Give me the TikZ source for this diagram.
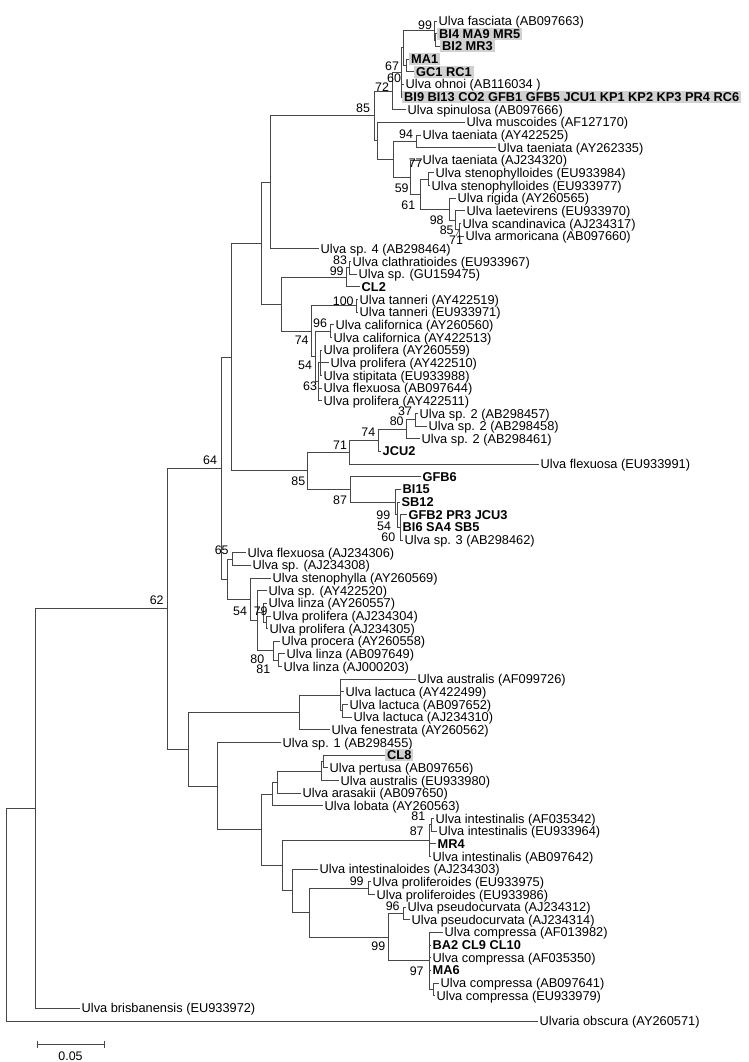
\documentclass[tikz,border=0pt]{standalone}
\usepackage{fontspec}
\setmainfont{Liberation Sans}
\begin{document}
\begin{tikzpicture}[x=1pt,y=-12.658pt,
  br/.style={draw=black!72,line width=0.85pt},
  lab/.style={anchor=west,inner xsep=1.5pt,inner ysep=0pt,text height=9.7pt,text depth=0.5pt,font=\fontsize{12.8}{14}\selectfont},
  blab/.style={lab,font=\fontsize{12.8}{14}\selectfont\bfseries},
  hl/.style={blab,fill=black!18,inner xsep=2pt,inner ysep=0.8pt},
  bs/.style={font=\fontsize{12.4}{14}\selectfont,inner sep=0pt}]
\useasboundingbox (0,-0.659) rectangle (748,83.24);
% leaves
\node[lab] (l1) at (437,1) {Ulva fasciata (AB097663)};
\node[hl] (l2) at (437,2) {BI4 MA9 MR5};
\node[hl] (l3) at (440,3) {BI2 MR3};
\node[hl] (l4) at (409,4) {MA1};
\node[hl] (l5) at (414,5) {GC1 RC1};
\node[lab] (l6) at (404,6) {Ulva ohnoi (AB116034 )};
\node[hl] (l7) at (402,7) {BI9 BI13 CO2 GFB1 GFB5 JCU1 KP1 KP2 KP3 PR4 RC6};
\node[lab] (l8) at (406,8) {Ulva spinulosa (AB097666)};
\node[lab] (l9) at (465,9) {Ulva muscoides (AF127170)};
\node[lab] (l10) at (421,10) {Ulva taeniata (AY422525)};
\node[lab] (l11) at (496,11) {Ulva taeniata (AY262335)};
\node[lab] (l12) at (421,12) {Ulva taeniata (AJ234320)};
\node[lab] (l13) at (434,13) {Ulva stenophylloides (EU933984)};
\node[lab] (l14) at (430,14) {Ulva stenophylloides (EU933977)};
\node[lab] (l15) at (456,15) {Ulva rigida (AY260565)};
\node[lab] (l16) at (465,16) {Ulva laetevirens (EU933970)};
\node[lab] (l17) at (461,17) {Ulva scandinavica (AJ234317)};
\node[lab] (l18) at (464,18) {Ulva armoricana (AB097660)};
\node[lab] (l19) at (319,19) {Ulva sp. 4 (AB298464)};
\node[lab] (l20) at (351,20) {Ulva clathratioides (EU933967)};
\node[lab] (l21) at (357,21) {Ulva sp. (GU159475)};
\node[blab] (l22) at (360,22) {CL2};
\node[lab] (l23) at (358,23) {Ulva tanneri (AY422519)};
\node[lab] (l24) at (358,24) {Ulva tanneri (EU933971)};
\node[lab] (l25) at (334,25) {Ulva californica (AY260560)};
\node[lab] (l26) at (332,26) {Ulva californica (AY422513)};
\node[lab] (l27) at (322,27) {Ulva prolifera (AY260559)};
\node[lab] (l28) at (329,28) {Ulva prolifera (AY422510)};
\node[lab] (l29) at (322,29) {Ulva stipitata (EU933988)};
\node[lab] (l30) at (322,30) {Ulva flexuosa (AB097644)};
\node[lab] (l31) at (322,31) {Ulva prolifera (AY422511)};
\node[lab] (l32) at (418,32) {Ulva sp. 2 (AB298457)};
\node[lab] (l33) at (427,33) {Ulva sp. 2 (AB298458)};
\node[lab] (l34) at (420,34) {Ulva sp. 2 (AB298461)};
\node[blab] (l35) at (381,35) {JCU2};
\node[lab] (l36) at (539,36) {Ulva flexuosa (EU933991)};
\node[blab] (l37) at (421,37) {GFB6};
\node[blab] (l38) at (401,38) {BI15};
\node[blab] (l39) at (400,39) {SB12};
\node[blab] (l40) at (407,40) {GFB2 PR3 JCU3};
\node[blab] (l41) at (401,41) {BI6 SA4 SB5};
\node[lab] (l42) at (403,42) {Ulva sp. 3 (AB298462)};
\node[lab] (l43) at (246,43) {Ulva flexuosa (AJ234306)};
\node[lab] (l44) at (251,44) {Ulva sp. (AJ234308)};
\node[lab] (l45) at (271,45) {Ulva stenophylla (AY260569)};
\node[lab] (l46) at (267,46) {Ulva sp. (AY422520)};
\node[lab] (l47) at (267,47) {Ulva linza (AY260557)};
\node[lab] (l48) at (271,48) {Ulva prolifera (AJ234304)};
\node[lab] (l49) at (268,49) {Ulva prolifera (AJ234305)};
\node[lab] (l50) at (280,50) {Ulva procera (AY260558)};
\node[lab] (l51) at (285,51) {Ulva linza (AB097649)};
\node[lab] (l52) at (282,52) {Ulva linza (AJ000203)};
\node[lab] (l53) at (416,53) {Ulva australis (AF099726)};
\node[lab] (l54) at (344,54) {Ulva lactuca (AY422499)};
\node[lab] (l55) at (348,55) {Ulva lactuca (AB097652)};
\node[lab] (l56) at (352,56) {Ulva lactuca (AJ234310)};
\node[lab] (l57) at (330,57) {Ulva fenestrata (AY260562)};
\node[lab] (l58) at (281,58) {Ulva sp. 1 (AB298455)};
\node[hl] (l59) at (385,59) {CL8};
\node[lab] (l60) at (328,60) {Ulva pertusa (AB097656)};
\node[lab] (l61) at (339,61) {Ulva australis (EU933980)};
\node[lab] (l62) at (301,62) {Ulva arasakii (AB097650)};
\node[lab] (l63) at (323,63) {Ulva lobata (AY260563)};
\node[lab] (l64) at (434,64) {Ulva intestinalis (AF035342)};
\node[lab] (l65) at (437,65) {Ulva intestinalis (EU933964)};
\node[blab] (l66) at (436,66) {MR4};
\node[lab] (l67) at (431,67) {Ulva intestinalis (AB097642)};
\node[lab] (l68) at (318,68) {Ulva intestinaloides (AJ234303)};
\node[lab] (l69) at (371,69) {Ulva proliferoides (EU933975)};
\node[lab] (l70) at (375,70) {Ulva proliferoides (EU933986)};
\node[lab] (l71) at (406,71) {Ulva pseudocurvata (AJ234312)};
\node[lab] (l72) at (410,72) {Ulva pseudocurvata (AJ234314)};
\node[lab] (l73) at (443,73) {Ulva compressa (AF013982)};
\node[blab] (l74) at (431,74) {BA2 CL9 CL10};
\node[lab] (l75) at (431,75) {Ulva compressa (AF035350)};
\node[blab] (l76) at (431,76) {MA6};
\node[lab] (l77) at (439,77) {Ulva compressa (AB097641)};
\node[lab] (l78) at (435,78) {Ulva compressa (EU933979)};
\node[lab] (l79) at (80,79) {Ulva brisbanensis (EU933972)};
\node[lab] (l80) at (538,80) {Ulvaria obscura (AY260571)};
% internal nodes
\coordinate (root) at (6,71.6);
\coordinate (X) at (35,63.21);
\coordinate (N62) at (167,47.43);
\coordinate (N64) at (221,36.32);
\coordinate (B) at (231,27.546);
\coordinate (E) at (261,18.5615);
\coordinate (D) at (270,13.748);
\coordinate (A85) at (374,8.4961);
\coordinate (A72) at (392,6.53125);
\coordinate (A60) at (401,5.0625);
\coordinate (A67) at (403,3.125);
\coordinate (A99) at (434,1.75);
\coordinate (A99b) at (435.5,2.5);
\coordinate (MA1c) at (406,4.5);
\coordinate (Tae) at (377,10.4609);
\coordinate (T2) at (393,11.921875);
\coordinate (T94) at (416.7,10.5);
\coordinate (T59) at (410,13.34375);
\coordinate (T61) at (420,14.6875);
\coordinate (St77) at (428,13.5);
\coordinate (R98) at (449,15.875);
\coordinate (R85) at (455,16.75);
\coordinate (R71) at (459,17.5);
\coordinate (F) at (281.7,23.375);
\coordinate (C99) at (346.7,21.25);
\coordinate (C83) at (349,20.5);
\coordinate (G) at (311.7,25.5);
\coordinate (Tn) at (356,23.5);
\coordinate (H) at (315,27.5);
\coordinate (Cal) at (330,25.5);
\coordinate (J63) at (318.5,29.5);
\coordinate (J54) at (320,28);
\coordinate (N85b) at (307.7,36.53125);
\coordinate (S71) at (349,35.0625);
\coordinate (S74) at (378,34.125);
\coordinate (S80) at (406,33.25);
\coordinate (S37) at (415,32.5);
\coordinate (G87) at (350,38);
\coordinate (B99) at (395,39);
\coordinate (B54) at (397,40);
\coordinate (B60) at (400,41);
\coordinate (N65) at (227,45.09375);
\coordinate (F65) at (232,43.5);
\coordinate (N54) at (250,46.6875);
\coordinate (N57) at (257,48.375);
\coordinate (Lz) at (263,47.75);
\coordinate (L79) at (266,48.5);
\coordinate (Lp) at (273,50.75);
\coordinate (L80) at (278,51.5);
\coordinate (M) at (188,58.537);
\coordinate (Lac) at (299,55.625);
\coordinate (Lac1) at (340,54.25);
\coordinate (Lac2) at (342.7,55.5);
\coordinate (Q) at (217,61.449);
\coordinate (R) at (261,64.898);
\coordinate (S) at (272,62.0625);
\coordinate (P) at (277,61.125);
\coordinate (C8) at (321.7,60.25);
\coordinate (C8a) at (323.5,59.5);
\coordinate (T) at (282,67.734);
\coordinate (I87) at (429,65.75);
\coordinate (I81) at (431,64.5);
\coordinate (U) at (292,69.71875);
\coordinate (V) at (309,71.4375);
\coordinate (Pf) at (368,69.5);
\coordinate (W) at (388,73.375);
\coordinate (Ps) at (403,71.5);
\coordinate (C97) at (429,75.25);
\coordinate (Cb) at (433,77.5);
% branches
\foreach \p/\c in {root/X,root/l80.west,X/N62,X/l79.west,N62/N64,N62/M,N64/B,N64/N65,
  B/E,B/N85b,E/D,E/F,D/A85,D/l19.west,A85/A72,A85/Tae,A72/A60,A72/l8.west,
  A60/A67,A60/l6.west,A60/l7.west,A67/A99,A67/MA1c,A99/l1.west,A99/A99b,
  A99b/l2.west,A99b/l3.west,MA1c/l4.west,MA1c/l5.west,Tae/l9.west,Tae/T2,
  T2/T94,T2/T59,T94/l10.west,T94/l11.west,T59/l12.west,T59/T61,T61/St77,T61/R98,
  St77/l13.west,St77/l14.west,R98/l15.west,R98/R85,R85/l16.west,R85/R71,
  R71/l17.west,R71/l18.west,F/C99,F/G,C99/C83,C99/l22.west,C83/l20.west,C83/l21.west,
  G/Tn,G/H,Tn/l23.west,Tn/l24.west,H/Cal,H/J63,Cal/l25.west,Cal/l26.west,
  J63/J54,J63/l30.west,J63/l31.west,J54/l27.west,J54/l28.west,J54/l29.west,
  N85b/S71,N85b/G87,S71/S74,S71/l36.west,S74/S80,S74/l35.west,S80/S37,S80/l34.west,
  S37/l32.west,S37/l33.west,G87/l37.west,G87/B99,B99/l38.west,B99/B54,
  B54/l39.west,B54/B60,B60/l40.west,B60/l41.west,B60/l42.west,
  N65/F65,N65/N54,F65/l43.west,F65/l44.west,N54/l45.west,N54/N57,
  N57/l46.west,N57/Lz,N57/Lp,Lz/l47.west,Lz/L79,L79/l48.west,L79/l49.west,
  Lp/l50.west,Lp/L80,L80/l51.west,L80/l52.west,
  M/Lac,M/Q,Lac/Lac1,Lac/l57.west,Lac1/l53.west,Lac1/l54.west,Lac1/Lac2,
  Lac2/l55.west,Lac2/l56.west,Q/l58.west,Q/R,R/S,R/T,S/P,S/l63.west,
  P/C8,P/l62.west,C8/C8a,C8/l61.west,C8a/l59.west,C8a/l60.west,
  T/I87,T/U,I87/I81,I87/l66.west,I87/l67.west,I81/l64.west,I81/l65.west,
  U/l68.west,U/V,V/Pf,V/W,Pf/l69.west,Pf/l70.west,W/Ps,W/C97,
  Ps/l71.west,Ps/l72.west,C97/l73.west,C97/l74.west,C97/l75.west,C97/l76.west,C97/Cb,
  Cb/l77.west,Cb/l78.west}
  {\draw[br] (\p) |- (\c);}
% bootstrap values and scale bar (pixel units)
\begin{scope}[y=-1pt,yshift=8.342pt]
\foreach \xx/\yy/\t [count=\i] in {425/25/99,392/66/67,394/78/60,382/87/72,363/108/85,
  406/134/94,415.7/163.3/77,401.7/188.3/59,408.3/205/61,436.7/220/98,446.7/230/85,
  456/240.5/71,340/260/83,336.7/271.7/99,343.3/301.7/100,320/323.3/96,301.7/340/74,
  305/365/54,310/386.7/63,405/411.7/37,396.7/421.7/80,368.3/432.7/74,340/445/71,
  298.3/481.7/85,340/500/87,383.3/515/99,384/526/54,388.3/537.5/60,210/460/64,
  156.7/600/62,221.7/550.7/65,240/611/54,260.7/611.7/79,257.3/659/80,263.3/669.5/81,
  418.3/816.7/81,416.7/831.7/87,356.7/881.7/99,392.7/906.5/96,378.3/946.7/99,416.7/971.7/97}
  {\node[bs] (bs\i) at (\xx,\yy) {\t};}
\draw[br,line width=0.6pt] (bs12.north) -- (R71);
\coordinate (sbL) at (37,1044);
\coordinate (sbR) at (104,1044);
\draw[br] (sbL) -- (sbR);
\draw[br] ([yshift=3.5pt]sbL) -- ([yshift=-3.5pt]sbL);
\draw[br] ([yshift=3.5pt]sbR) -- ([yshift=-3.5pt]sbR);
\node[bs] (sbt) at (70.5,1056) {0.05};
\end{scope}
\end{tikzpicture}
\end{document}
